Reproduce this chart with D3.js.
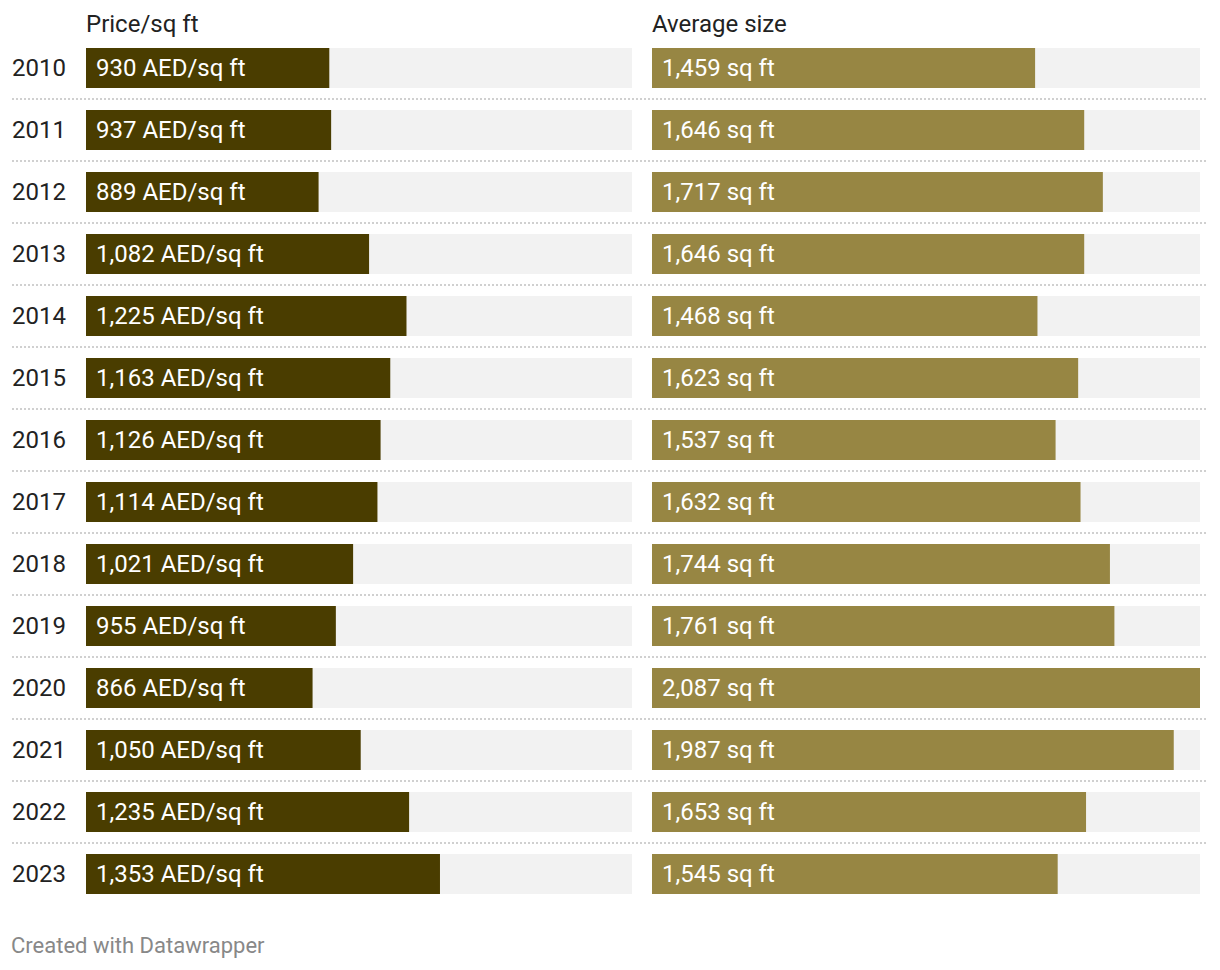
<!DOCTYPE html>
<html><head><meta charset="utf-8">
<script src="https://cdn.jsdelivr.net/npm/d3@7"></script>
<style>
html,body{margin:0;padding:0;background:#fff;}
svg text{font-family:Roboto,"Noto Sans",sans-serif;}
</style></head>
<body>
<svg id="chart" width="1220" height="970"></svg>
<script>
const years = ["2010","2011","2012","2013","2014","2015","2016","2017","2018","2019","2020","2021","2022","2023"];
const pricePerSqft = [930,937,889,1082,1225,1163,1126,1114,1021,955,866,1050,1235,1353];
const averageSize = [1459,1646,1717,1646,1468,1623,1537,1632,1744,1761,2087,1987,1653,1545];
const columnTitles = ["Price/sq ft","Average size"];
const unitSuffixes = [" AED/sq ft"," sq ft"];

const svg = d3.select("#chart");
const fmt = d3.format(",");
const domainMax = d3.max(averageSize.concat(pricePerSqft));

const step = 62, bh = 40, top0 = 48;
const y = d3.scalePoint().domain(years).range([top0, top0 + step*(years.length-1)]);

const cols = [
  {title: columnTitles[0], vals: pricePerSqft, x0: 86, x1: 632, color: "#4a3d00", suffix: unitSuffixes[0]},
  {title: columnTitles[1], vals: averageSize, x0: 652, x1: 1200, color: "#978643", suffix: unitSuffixes[1]}
];

// separators
svg.append("g").selectAll("line").data(years.slice(0,-1)).join("line")
  .attr("x1", 12).attr("x2", 1208)
  .attr("y1", d => y(d) + bh + 11).attr("y2", d => y(d) + bh + 11)
  .attr("stroke", "#d0d0d0").attr("stroke-width", 2).attr("stroke-dasharray", "2,2");

// year labels
svg.append("g").selectAll("text").data(years).join("text")
  .attr("x", 12).attr("y", d => y(d) + 28)
  .attr("font-size", 24).attr("fill", "#222").text(d => d);

cols.forEach(c => {
  const x = d3.scaleLinear().domain([0, domainMax]).range([c.x0, c.x1]);
  svg.append("text").attr("x", c.x0).attr("y", 32).attr("font-size", 24).attr("fill", "#222").text(c.title);
  const g = svg.append("g");
  g.selectAll("rect.bg").data(years).join("rect").attr("class","bg")
    .attr("x", c.x0).attr("y", d => y(d)).attr("width", c.x1 - c.x0).attr("height", bh).attr("fill", "#f2f2f2");
  g.selectAll("rect.bar").data(c.vals).join("rect").attr("class","bar")
    .attr("x", c.x0).attr("y", (v,i) => y(years[i])).attr("width", v => x(v) - c.x0).attr("height", bh).attr("fill", c.color);
  g.selectAll("text").data(c.vals).join("text")
    .attr("x", c.x0 + 10).attr("y", (v,i) => y(years[i]) + 27.5)
    .attr("font-size", 24).attr("fill", "#fff").text(v => fmt(v) + c.suffix);
});

svg.append("text").attr("x", 11).attr("y", 953).attr("font-size", 22).attr("fill", "#888").text("Created with Datawrapper");
</script>
</body></html>
